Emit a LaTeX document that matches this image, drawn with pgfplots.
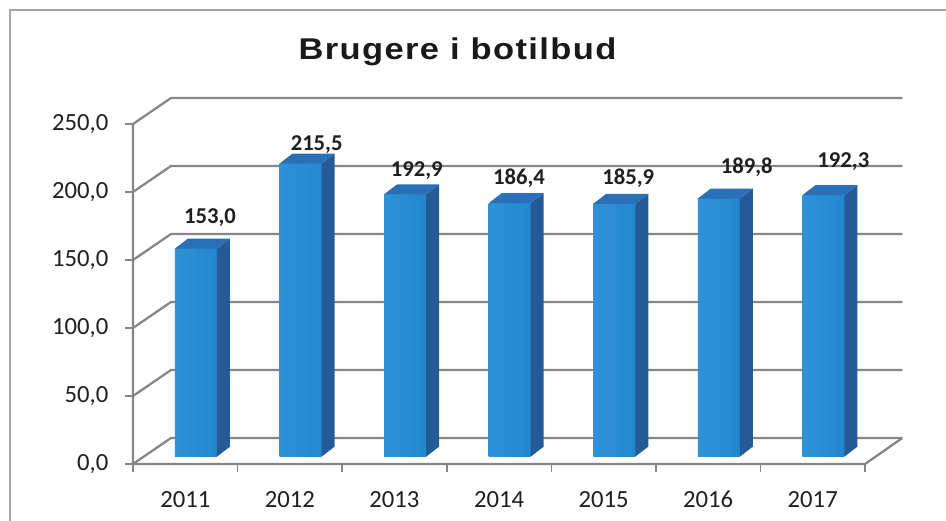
\documentclass[border=0pt]{standalone}
\usepackage{fontspec}
\setmainfont{Carlito}
\newfontfamily\titlefont{Liberation Sans}[LetterSpace=4]
\usepackage{pgfplots}
\usepackage{pgfplotstable}
\pgfplotsset{compat=1.18}
\definecolor{gridgray}{RGB}{134,134,134}
\definecolor{borderg}{RGB}{165,165,165}
\definecolor{barfront}{RGB}{36,134,204}
\definecolor{barfrontl}{RGB}{48,146,214}
\definecolor{barside}{RGB}{36,91,150}
\definecolor{bartop}{RGB}{41,112,182}
\pgfdeclareplotmark{empty}{}
\pgfplotstableread{
x y lx ly
0 153.0 24.7 38.1
1 215.5 26.8 26.4
2 192.9 22.3 30.9
3 186.4 20.0 31.8
4 185.9 24.7 32.5
5 189.8 38.6 38.4
6 192.3 30.6 41.3
}\datatable
\begin{document}
\begin{tikzpicture}
\useasboundingbox (0,0) rectangle (709.5pt,390.75pt);
\begin{scope}
\clip (0,0) rectangle (709.5pt,390.75pt);
\draw[borderg, line width=1pt] (7.5pt,-10pt) rectangle (720pt,383.25pt);
\end{scope}
\node[anchor=base, font=\titlefont\bfseries\fontsize{22.5}{26}\selectfont, text=black!90] at (343.1pt,346.3pt) {\scalebox{1.15}[1]{Brugere i botilbud}};
\begin{axis}[
  at={(99.75pt,42.75pt)}, anchor=south west,
  x=78.43pt, y=1.02pt,
  xmin=-0.5, xmax=6.5, ymin=0, ymax=250,
  axis line style={draw=none},
  clip=false,
  tick pos=left,
  tick align=outside,
  major tick length=6pt,
  tick style={gridgray, line width=1.2pt},
  ytick={0,50,...,250},
  xtick={-0.5,0.5,...,6.5},
  x tick label as interval,
  xticklabels={2011,2012,2013,2014,2015,2016,2017},
  /pgf/number format/assume math mode=true,
  yticklabel style={/pgf/number format/.cd, fixed, fixed zerofill, precision=1, use comma, /tikz/.cd, xshift=-9pt},
  xticklabel style={anchor=base, yshift=-26.5pt},
  ticklabel style={font=\fontsize{18.5}{20}\selectfont, text=black!88},
]
\pgfplotsinvokeforeach{0,50,...,250}{
  \draw[gridgray, line width=1.7pt, line join=round] (axis cs:-0.5,#1) -- ([shift={(28.5pt,19.5pt)}]axis cs:-0.5,#1) -- ([shift={(28pt,19.5pt)}]axis cs:6.5,#1);
}
\draw[gridgray, line width=1.7pt, line join=round] (axis cs:-0.5,250) -- (axis cs:-0.5,0) -- (axis cs:6.5,0) -- ([shift={(28pt,19.5pt)}]axis cs:6.5,0);
\addplot[scatter, only marks, mark=empty, draw=none,
  visualization depends on={\thisrow{y} \as \ry},
  scatter/@pre marker code/.code={%
    \pgfmathsetmacro\Hb{5.5-\ry*1.02}%
    \pgfmathsetmacro\Hs{13-\ry*1.02}%
    \shade[draw=none, left color=barfrontl, right color=barfront] (-7.75pt,\Hb pt) rectangle (23.75pt,5.5pt);
    \fill[draw=none, barside] (23.75pt,\Hb pt) -- (33.5pt,\Hs pt) -- (33.5pt,13pt) -- (23.75pt,5.5pt) -- cycle;
    \fill[draw=none, bartop] (-7.75pt,5.5pt) -- (2pt,13pt) -- (33.5pt,13pt) -- (23.75pt,5.5pt) -- cycle;
  },
  scatter/@post marker code/.code={},
] table[x=x,y=y] {\datatable};
\addplot[only marks, mark=empty,
  visualization depends on={\thisrow{lx} \as \lx},
  visualization depends on={\thisrow{ly} \as \ly},
  point meta=\thisrow{y},
  nodes near coords={\pgfmathprintnumber[fixed,fixed zerofill,precision=1,use comma]{\pgfplotspointmeta}},
  every node near coord/.append style={font=\bfseries\fontsize{17}{20}\selectfont, text=black!88, anchor=center, xshift=\lx*0.75pt, yshift=\ly*0.75pt},
] table[x=x,y=y] {\datatable};
\end{axis}
\end{tikzpicture}
\end{document}
